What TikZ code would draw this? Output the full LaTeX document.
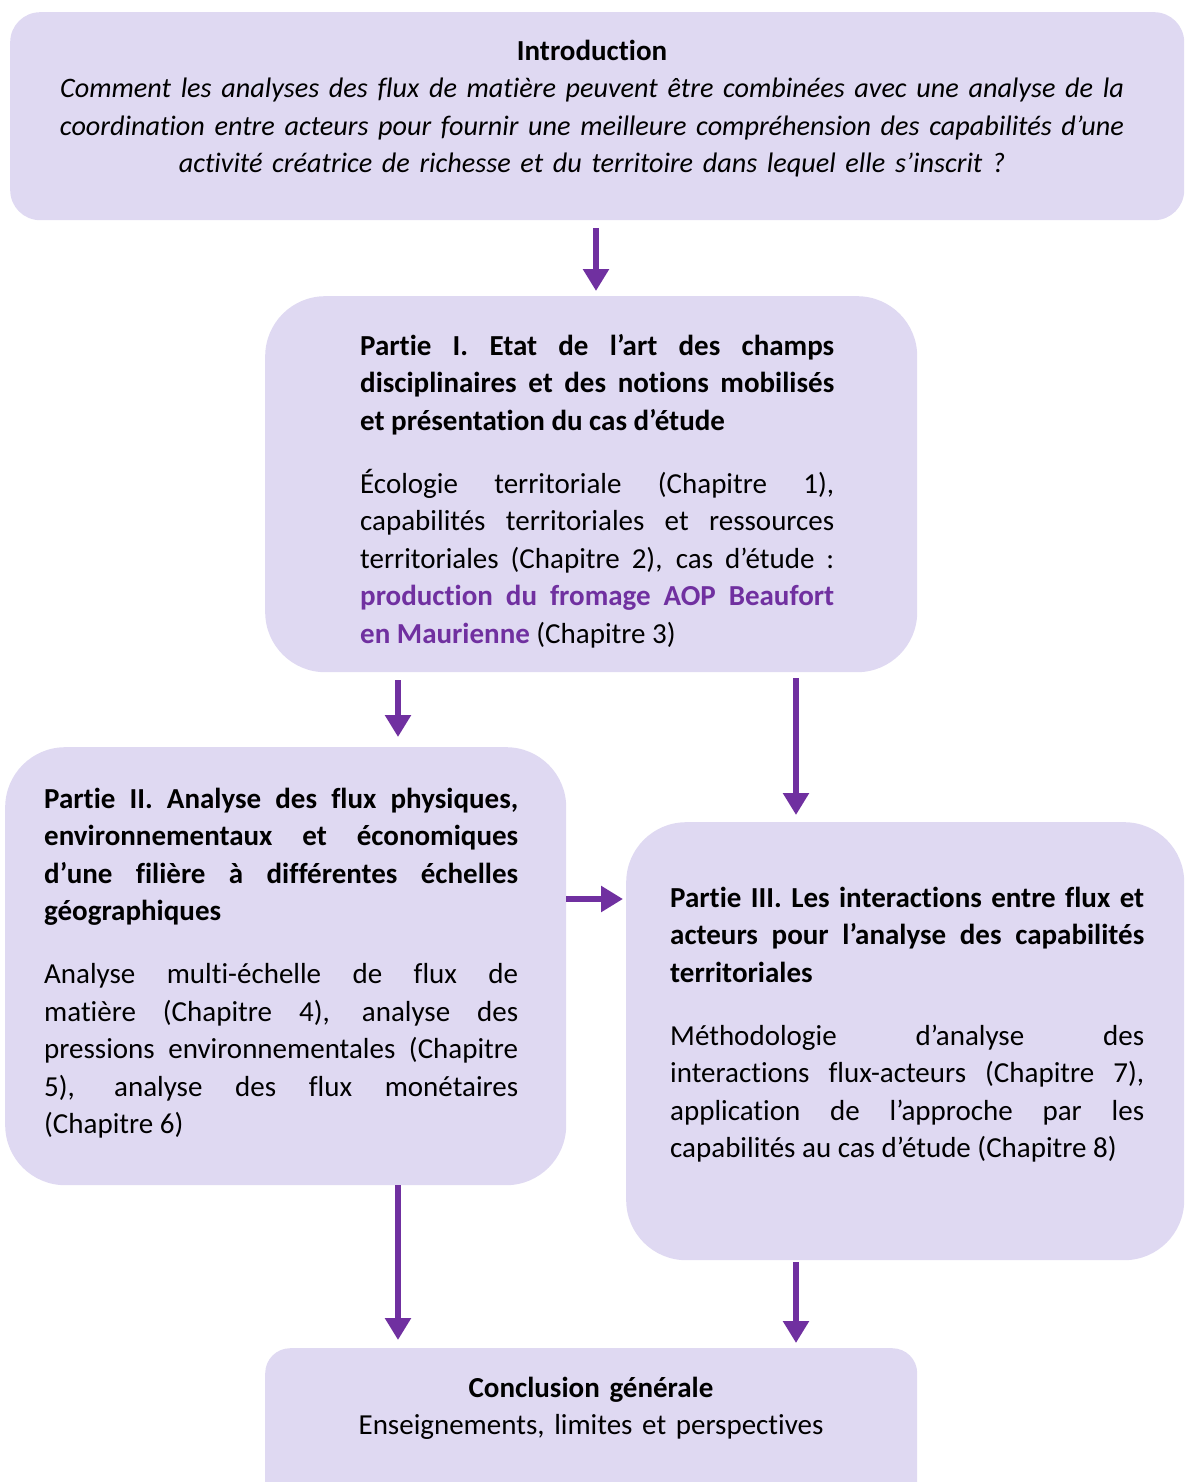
\documentclass[tikz,border=0pt]{standalone}
\usepackage{fontspec}
\setmainfont{Carlito}[Ligatures=NoCommon]
\usetikzlibrary{arrows.meta}
\definecolor{boxfill}{HTML}{DFD9F2}
\definecolor{accent}{HTML}{7030A0}
\newcommand{\nobreakset}{\tolerance=10000 \hyphenpenalty=10000 \exhyphenpenalty=10000\relax}
\begin{document}
\begin{tikzpicture}[x=1pt,y=-1pt,
  box/.style={fill=boxfill, draw=none, rectangle, anchor=north west, inner sep=0pt},
  conn/.style={draw=accent, line width=6pt, -{Triangle[width=25pt,length=22pt]}},
  tx/.style={inner sep=0pt, anchor=north west, text width=474pt, align=justify,
    font=\fontsize{29}{37.5}\selectfont},
  ctx/.style={inner sep=0pt, anchor=north, text width=1150pt, align=center,
    font=\fontsize{29}{37.5}\selectfont}
]
\useasboundingbox (0,0) rectangle (1184,1482);

% boxes
\node[box, rounded corners=30pt, minimum width=1174pt, minimum height=208pt] (intro) at (10,12) {};
\node[box, rounded corners=60pt, minimum width=652pt, minimum height=376pt] (p1) at (265,296) {};
\node[box, rounded corners=60pt, minimum width=561pt, minimum height=438pt] (p2) at (5,747) {};
\node[box, rounded corners=60pt, minimum width=558pt, minimum height=438pt] (p3) at (626,822) {};
\node[box, rounded corners=25pt, minimum width=652pt, minimum height=160pt] (concl) at (265,1348) {};

% texts
\node[ctx] (introtxt) at (592,34) {\strut\textbf{Introduction}\\
\fontsize{28.2}{37.5}\selectfont
\textit{Comment les analyses des flux de matière peuvent être combinées avec une analyse de la\\
coordination entre acteurs pour fournir une meilleure compréhension des capabilités d’une\\
activité créatrice de richesse et du territoire dans lequel elle s’inscrit ?}};

\node[tx] (p1txt) at (360,329) {\nobreakset\strut\textbf{Partie I. Etat de l’art des champs\linebreak
disciplinaires et des notions mobilisés\linebreak
et présentation du cas d’étude}\par\vspace{25.5pt}
Écologie territoriale (Chapitre 1),\linebreak
capabilités territoriales et ressources\linebreak
territoriales (Chapitre 2), cas d’étude :\linebreak
\textcolor{accent}{\textbf{production du fromage AOP Beaufort\linebreak
en Maurienne}} (Chapitre 3)};

\node[tx] (p2txt) at (44,782) {\nobreakset\strut\textbf{Partie II. Analyse des flux physiques,\linebreak
environnementaux et économiques\linebreak
d’une filière à différentes échelles\linebreak
géographiques}\par\vspace{25.5pt}
Analyse multi-échelle de flux de\linebreak
matière (Chapitre 4), analyse des\linebreak
pressions environnementales (Chapitre\linebreak
5), analyse des flux monétaires\linebreak
(Chapitre 6)};

\node[tx] (p3txt) at (670,881) {\nobreakset\strut\textbf{Partie III. Les interactions entre flux et\linebreak
acteurs pour l’analyse des capabilités\linebreak
territoriales}\par\vspace{25.5pt}
Méthodologie d’analyse des\linebreak
interactions flux-acteurs (Chapitre 7),\linebreak
application de l’approche par les\linebreak
capabilités au cas d’étude (Chapitre 8)};

\node[ctx] (concltxt) at (591,1371) {\strut\textbf{Conclusion générale}\\
Enseignements, limites et perspectives};

% connectors
\draw[conn, shorten <=8pt, shorten >=5pt] (intro.south -| 596,0) -- (p1.north -| 596,0);
\draw[conn, shorten <=8pt, shorten >=10pt] (p1.south -| 398,0) -- (p2.north -| 398,0);
\draw[conn, shorten <=6pt, shorten >=7pt] (p1.south -| 796,0) -- (p3.north -| 796,0);
\draw[conn, shorten >=3pt] (p2.east |- 0,899) -- (p3.west |- 0,899);
\draw[conn, shorten >=8pt] (p2.south -| 398,0) -- (concl.north -| 398,0);
\draw[conn, shorten <=2pt, shorten >=5pt] (p3.south -| 796,0) -- (concl.north -| 796,0);
\end{tikzpicture}
\end{document}
